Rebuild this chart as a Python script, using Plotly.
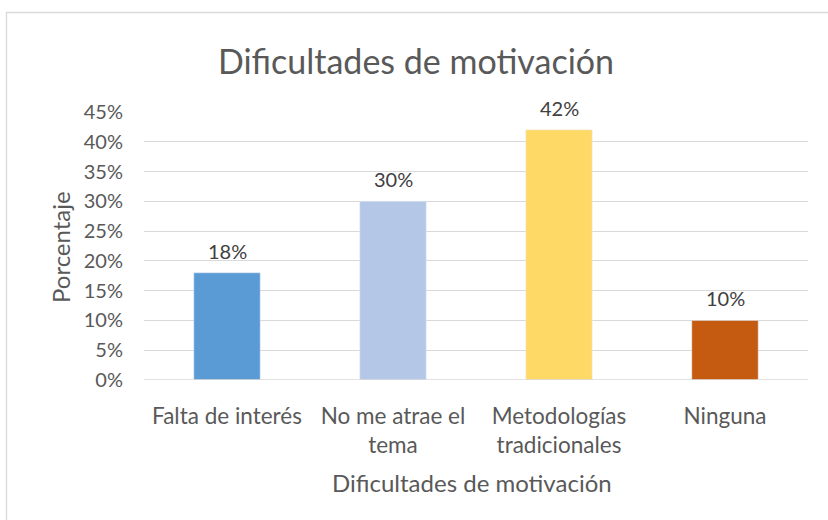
import plotly.graph_objects as go

categories = ["Falta de interés", "No me atrae el<br>tema", "Metodologías<br>tradicionales", "Ninguna"]
values = [0.18, 0.30, 0.42, 0.10]
labels = ["18%", "30%", "42%", "10%"]
colors = ["#5B9BD5", "#B4C7E7", "#FFD966", "#C55A11"]
yticks = [0, 0.05, 0.10, 0.15, 0.20, 0.25, 0.30, 0.35, 0.40, 0.45]

FONT = "Lato, Open Sans, sans-serif"
L, R, T, B = 144, 20, 112, 140
W, H = 828, 520
pw, ph = W - L - R, H - T - B

def px(x):
    return (x - L) / pw

def py(y):
    return (H - B - y) / ph

fig = go.Figure(go.Bar(
    x=categories, y=values, marker_color=colors, width=0.4,
    hoverinfo="skip",
))

value_labels = [
    dict(x=c, y=v, text=t, xref="x", yref="y", yshift=22, showarrow=False,
         xanchor="center", yanchor="middle", font=dict(size=20, color="#404040"))
    for c, v, t in zip(categories, values, labels)
]

fig.update_layout(
    width=W, height=H,
    margin=dict(l=L, r=R, t=T, b=B, autoexpand=False),
    paper_bgcolor="white", plot_bgcolor="white",
    font=dict(family=FONT, color="#595959"),
    title=dict(text="Dificultades de motivación", x=px(416), xref="paper", xanchor="center",
               y=1 - 62 / H, yanchor="middle", font=dict(size=34, color="#595959")),
    showlegend=False,
    xaxis=dict(tickfont=dict(size=22.5), showgrid=False, showline=False, ticks="",
               automargin=False, ticklabelstandoff=20),
    yaxis=dict(range=[0, 0.45], tickvals=yticks, tickformat=".0%", tickfont=dict(size=20),
               showgrid=True, gridcolor="#D9D9D9", gridwidth=1.3, zeroline=False,
               ticks="", showline=False, automargin=False, ticklabelstandoff=20),
    annotations=value_labels + [
        dict(text="Porcentaje", xref="paper", yref="paper", x=px(60), y=py(247),
             xanchor="center", yanchor="middle", textangle=-90, showarrow=False,
             font=dict(size=24, color="#595959")),
        dict(text="Dificultades de motivación", xref="paper", yref="paper", x=px(472), y=py(482),
             xanchor="center", yanchor="middle", showarrow=False,
             font=dict(size=24, color="#595959")),
    ],
    shapes=[dict(type="rect", xref="paper", yref="paper",
                 x0=px(6.5), x1=px(840), y0=py(12.5), y1=py(540),
                 line=dict(color="#D9D9D9", width=1.3), layer="below"),
            dict(type="line", xref="paper", yref="y", x0=0, x1=1, y0=0, y1=0,
                 line=dict(color="#D9D9D9", width=1.3))],
)

fig.write_html("out.html", config={"displayModeBar": False},
               post_script="document.body.style.margin='0';document.body.style.overflow='hidden';")
